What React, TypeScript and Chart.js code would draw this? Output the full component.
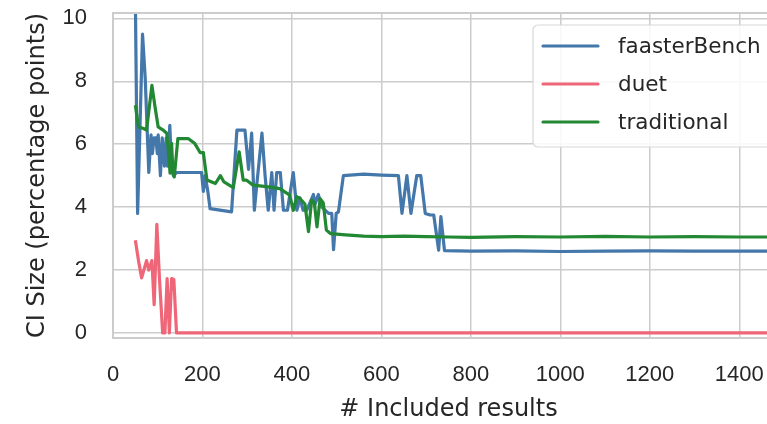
import React, { useEffect, useRef } from "react";
import { Chart, registerables } from "chart.js";

Chart.register(...registerables);

// ---- data ----
const FB_X = [50, 55, 66, 72, 80, 85, 88, 92, 96, 99, 101, 106, 110, 115, 119, 122, 127, 131, 135, 142, 198, 202, 206, 212, 217, 265, 277, 295, 303, 310, 316, 321, 333, 340, 347, 355, 360, 366, 374, 381, 390, 403, 411, 418, 425, 433, 448, 452, 459, 467, 482, 489, 493, 499, 504, 515, 560, 600, 638, 646, 657, 666, 679, 688, 698, 709, 717, 728, 733, 741, 800, 900, 1000, 1100, 1200, 1300, 1400, 1500];
const FB_Y = [10.6, 3.8, 9.5, 8.1, 5.1, 6.3, 5.7, 6.2, 6.2, 5.7, 6.3, 5.0, 6.2, 5.3, 6.2, 5.3, 6.6, 5.2, 5.0, 5.1, 5.1, 4.5, 5.0, 4.5, 3.95, 3.85, 6.45, 6.45, 5.2, 6.35, 3.9, 4.65, 6.35, 5.0, 3.9, 5.1, 3.9, 5.1, 5.1, 3.9, 3.9, 5.1, 3.9, 4.3, 3.9, 3.9, 4.4, 4.1, 4.4, 4.0, 3.8, 3.8, 2.65, 3.8, 3.85, 5.0, 5.05, 5.02, 5.0, 3.8, 5.0, 3.8, 5.0, 5.0, 3.8, 3.75, 3.75, 2.63, 3.7, 2.62, 2.6, 2.61, 2.59, 2.6, 2.61, 2.6, 2.6, 2.6];

const DUET_X = [50, 57, 64, 75, 80, 87, 92, 98, 104, 111, 116, 121, 126, 131, 136, 142, 1500];
const DUET_Y = [2.95, 2.3, 1.75, 2.3, 2.0, 2.3, 0.9, 3.45, 1.7, 0, 0, 1.73, 0, 1.73, 1.7, 0, 0];

const TRAD_X = [50, 57, 68, 75, 87, 94, 101, 112, 120, 124, 127.5, 131, 134, 137, 145, 168, 183, 195, 202, 210, 229, 240, 248, 269, 282, 291, 298, 313, 343, 373, 395, 403, 411, 418, 429, 437, 444, 450, 456, 463, 470, 477, 486, 520, 560, 600, 650, 700, 750, 800, 900, 1000, 1100, 1200, 1300, 1400, 1500];
const TRAD_Y = [7.24, 6.55, 6.5, 6.45, 7.87, 7.18, 6.55, 6.45, 6.35, 5.8, 5.08, 6.03, 5.1, 4.96, 6.18, 6.18, 6.02, 5.73, 5.73, 4.86, 4.75, 5.0, 4.8, 4.62, 5.76, 4.86, 4.86, 4.7, 4.65, 4.59, 4.38, 3.9, 4.33, 4.27, 4.1, 3.22, 4.22, 4.15, 3.37, 4.27, 4.13, 3.27, 3.16, 3.12, 3.08, 3.06, 3.08, 3.06, 3.05, 3.04, 3.06, 3.05, 3.07, 3.05, 3.06, 3.05, 3.05];

const SERIES_LABELS = ["faasterBench", "duet", "traditional"];
const SERIES_COLORS = ["#4477AA", "#EE6677", "#228833"];

const X_TICKS = [0, 200, 400, 600, 800, 1000, 1200, 1400];
const Y_TICKS = [0, 2, 4, 6, 8, 10];
const X_MIN = 0;
const X_MAX = 1500;
const Y_MIN = -0.16;
const Y_MAX = 10.17;

const X_TITLE = "# Included results";
const Y_TITLE = "CI Size (percentage points)";

const TEXT = "#262626";
const GRID = "#cccccc";

const pts = (xs: number[], ys: number[]) => xs.map((x, i) => ({ x, y: ys[i] }));

const framePlugin = {
  id: "frame",
  afterDatasetsDraw(chart: any) {
    const { ctx, chartArea: a } = chart;
    ctx.save();
    ctx.strokeStyle = GRID;
    ctx.lineWidth = 2;
    ctx.strokeRect(a.left, a.top, a.right - a.left, a.bottom - a.top);
    ctx.restore();
  },
};

const legendPlugin = {
  id: "boxLegend",
  afterDatasetsDraw(chart: any) {
    const { ctx, chartArea: a } = chart;
    const w = 239;
    const h = 122;
    const x = a.right - 12 - w;
    const y = a.top + 12;
    ctx.save();
    ctx.beginPath();
    (ctx as any).roundRect(x, y, w, h, 5);
    ctx.fillStyle = "rgba(255,255,255,0.85)";
    ctx.fill();
    ctx.strokeStyle = "#d8d8d8";
    ctx.lineWidth = 1.2;
    ctx.stroke();
    chart.data.datasets.forEach((ds: any, i: number) => {
      const cy = y + 21 + i * 38;
      ctx.beginPath();
      ctx.moveTo(x + 10, cy);
      ctx.lineTo(x + 65, cy);
      ctx.strokeStyle = ds.borderColor;
      ctx.lineWidth = 3.2;
      ctx.lineCap = "round";
      ctx.stroke();
      ctx.fillStyle = TEXT;
      ctx.font = '21.5px "DejaVu Sans"';
      ctx.textBaseline = "middle";
      ctx.textAlign = "left";
      ctx.fillText(ds.label, x + 85, cy + 1);
    });
    ctx.restore();
  },
};

export default function App() {
  const ref = useRef<HTMLCanvasElement | null>(null);

  useEffect(() => {
    if (!ref.current) return;
    const seriesX = [FB_X, DUET_X, TRAD_X];
    const seriesY = [FB_Y, DUET_Y, TRAD_Y];
    const chart = new Chart(ref.current, {
      type: "line",
      data: {
        datasets: SERIES_LABELS.map((label, i) => ({
          label,
          data: pts(seriesX[i], seriesY[i]),
          borderColor: SERIES_COLORS[i],
          backgroundColor: SERIES_COLORS[i],
          borderWidth: 3.2,
          pointRadius: 0,
          tension: 0,
          fill: false,
          order: 3 - i,
          borderJoinStyle: "round" as const,
        })),
      },
      options: {
        animation: false,
        responsive: false,
        events: [],
        layout: { padding: { top: 13, right: 6, left: 0, bottom: 0 } },
        plugins: {
          legend: { display: false },
          tooltip: { enabled: false },
        },
        scales: {
          x: {
            type: "linear",
            min: X_MIN,
            max: X_MAX,
            afterBuildTicks: (s: any) => {
              s.ticks = X_TICKS.map((v) => ({ value: v }));
            },
            afterFit: (s: any) => {
              s.height = 86;
              s.paddingLeft = 0;
              s.paddingRight = 0;
              s.paddingTop = 0;
              s.paddingBottom = 0;
            },
            grid: { color: GRID, lineWidth: 1.5, drawTicks: false },
            border: { display: false },
            ticks: {
              padding: 24,
              color: TEXT,
              font: { family: '"Liberation Sans", sans-serif', size: 22 },
              maxRotation: 0,
              autoSkip: false,
              callback: (v: any) => String(v),
            },
            title: {
              display: true,
              text: X_TITLE,
              color: TEXT,
              font: { family: '"DejaVu Sans", sans-serif', size: 24 },
              padding: { top: 0, bottom: 0 },
            },
          },
          y: {
            type: "linear",
            min: Y_MIN,
            max: Y_MAX,
            afterBuildTicks: (s: any) => {
              s.ticks = Y_TICKS.map((v) => ({ value: v }));
            },
            afterFit: (s: any) => {
              s.width = 113;
              s.paddingLeft = 0;
              s.paddingRight = 0;
              s.paddingTop = 0;
              s.paddingBottom = 0;
            },
            grid: { color: GRID, lineWidth: 1.5, drawTicks: false },
            border: { display: false },
            ticks: {
              padding: 26,
              color: TEXT,
              font: { family: '"Liberation Sans", sans-serif', size: 22 },
              autoSkip: false,
              callback: (v: any) => String(v),
            },
            title: {
              display: true,
              text: Y_TITLE,
              color: TEXT,
              font: { family: '"DejaVu Sans", sans-serif', size: 24 },
              padding: { top: 23, bottom: 0 },
            },
          },
        },
      },
      plugins: [framePlugin, legendPlugin],
    });
    return () => chart.destroy();
  }, []);

  return (
    <div
      style={{
        position: "absolute",
        left: 0,
        top: 0,
        width: 767,
        height: 424,
        overflow: "hidden",
        background: "#ffffff",
      }}
    >
      <canvas ref={ref} width={790} height={424} style={{ display: "block" }} />
    </div>
  );
}
